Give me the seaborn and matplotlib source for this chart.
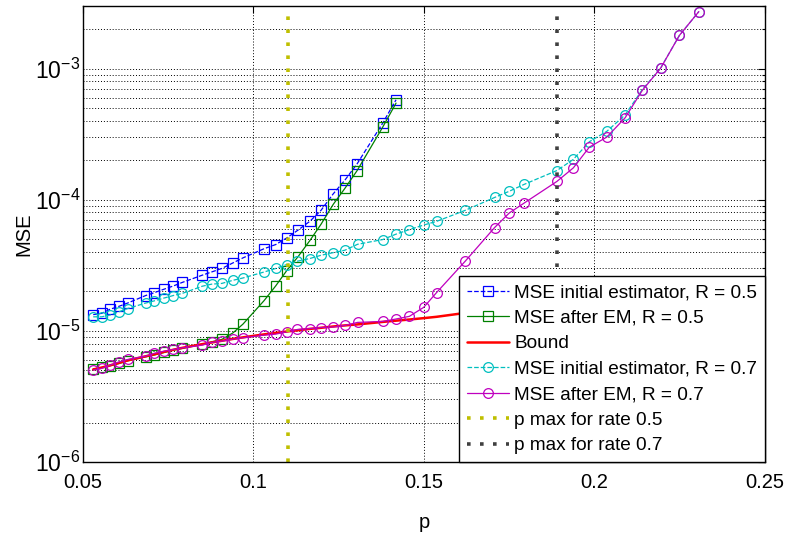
import matplotlib
matplotlib.use("Agg")
import matplotlib.pyplot as plt
import seaborn as sns
from matplotlib.ticker import FixedLocator, FixedFormatter, LogLocator, NullFormatter

# Crossover probabilities for the rate-0.5 code
p_r05 = [0.0530, 0.0555, 0.0579, 0.0606, 0.0631, 0.0684, 0.0708, 0.0738, 0.0765,
         0.0791, 0.0850, 0.0877, 0.0907, 0.0940, 0.0969, 0.1031, 0.1065, 0.1097,
         0.1130, 0.1166, 0.1198, 0.1234, 0.1268, 0.1304, 0.1379, 0.1418]
mse_init_r05 = [1.33e-5, 1.36e-5, 1.46e-5, 1.54e-5, 1.63e-5, 1.86e-5, 1.95e-5, 2.08e-5,
                2.20e-5, 2.34e-5, 2.66e-5, 2.81e-5, 2.99e-5, 3.30e-5, 3.60e-5, 4.23e-5,
                4.55e-5, 5.10e-5, 5.85e-5, 6.87e-5, 8.30e-5, 1.11e-4, 1.41e-4, 1.88e-4,
                3.84e-4, 5.78e-4]
mse_em_r05 = [5.11e-6, 5.26e-6, 5.41e-6, 5.64e-6, 5.91e-6, 6.34e-6, 6.53e-6, 6.84e-6,
              7.13e-6, 7.34e-6, 7.92e-6, 8.25e-6, 8.60e-6, 9.66e-6, 1.125e-5, 1.70e-5,
              2.20e-5, 2.87e-5, 3.66e-5, 4.91e-5, 6.50e-5, 9.23e-5, 1.22e-4, 1.67e-4,
              3.58e-4, 5.45e-4]

# Crossover probabilities for the rate-0.7 code
p_r07 = [0.0530, 0.0555, 0.0579, 0.0606, 0.0631, 0.0684, 0.0708, 0.0738, 0.0765,
         0.0791, 0.0850, 0.0877, 0.0907, 0.0940, 0.0969, 0.1031, 0.1065, 0.1097,
         0.1129, 0.1165, 0.1198, 0.1234, 0.1268, 0.1305, 0.1379, 0.1417, 0.1457,
         0.1499, 0.1537, 0.1621, 0.1707, 0.1750, 0.1794, 0.1890, 0.1938, 0.1985,
         0.2036, 0.2090, 0.2140, 0.2194, 0.2249, 0.2306]
mse_init_r07 = [1.28e-5, 1.28e-5, 1.32e-5, 1.40e-5, 1.48e-5, 1.63e-5, 1.69e-5, 1.78e-5,
                1.86e-5, 1.93e-5, 2.19e-5, 2.27e-5, 2.30e-5, 2.43e-5, 2.53e-5, 2.81e-5,
                2.99e-5, 3.20e-5, 3.40e-5, 3.56e-5, 3.77e-5, 3.95e-5, 4.12e-5, 4.57e-5,
                4.97e-5, 5.45e-5, 5.92e-5, 6.41e-5, 6.84e-5, 8.30e-5, 1.04e-4, 1.16e-4,
                1.31e-4, 1.67e-4, 2.03e-4, 2.77e-4, 3.32e-4, 4.44e-4, 6.90e-4, 1.01e-3,
                1.79e-3, 2.72e-3]
mse_em_r07 = [5.02e-6, 5.17e-6, 5.48e-6, 5.80e-6, 6.05e-6, 6.42e-6, 6.73e-6, 7.00e-6,
              7.21e-6, 7.42e-6, 7.78e-6, 8.16e-6, 8.35e-6, 8.65e-6, 8.85e-6, 9.27e-6,
              9.44e-6, 9.83e-6, 1.025e-5, 1.04e-5, 1.06e-5, 1.07e-5, 1.10e-5, 1.16e-5,
              1.18e-5, 1.23e-5, 1.29e-5, 1.51e-5, 1.96e-5, 3.40e-5, 6.13e-5, 7.92e-5,
              9.44e-5, 1.38e-4, 1.75e-4, 2.52e-4, 3.00e-4, 4.22e-4, 6.81e-4, 1.007e-3,
              1.79e-3, 2.72e-3]

# Theoretical lower bound
p_bound = p_r07
mse_bound = [5.08e-6, 5.25e-6, 5.45e-6, 5.70e-6, 5.95e-6, 6.40e-6, 6.62e-6, 6.92e-6,
             7.18e-6, 7.42e-6, 7.92e-6, 8.15e-6, 8.40e-6, 8.68e-6, 8.92e-6, 9.40e-6,
             9.65e-6, 9.88e-6, 1.01e-5, 1.035e-5, 1.055e-5, 1.08e-5, 1.10e-5, 1.12e-5,
             1.17e-5, 1.195e-5, 1.22e-5, 1.25e-5, 1.28e-5, 1.37e-5, 1.40e-5, 1.43e-5,
             1.46e-5, 1.53e-5, 1.56e-5, 1.60e-5, 1.63e-5, 1.67e-5, 1.71e-5, 1.75e-5,
             1.79e-5, 1.83e-5]

# Largest decodable crossover probability for each rate
p_max_r05 = 0.11
p_max_r07 = 0.189

x_ticks = [0.05, 0.1, 0.15, 0.2, 0.25]
x_tick_labels = ["0.05", "0.1", "0.15", "0.2", "0.25"]
y_ticks = [1e-6, 1e-5, 1e-4, 1e-3]
y_tick_labels = [r"$10^{-6}$", r"$10^{-5}$", r"$10^{-4}$", r"$10^{-3}$"]

sns.set_theme(style="white")
plt.rcParams["font.family"] = ["Liberation Sans", "DejaVu Sans"]
plt.rcParams["mathtext.fontset"] = "custom"
plt.rcParams["mathtext.rm"] = "Liberation Sans"
plt.rcParams["mathtext.it"] = "Liberation Sans:italic"
plt.rcParams["mathtext.bf"] = "Liberation Sans:bold"
plt.rcParams["text.color"] = "black"
plt.rcParams["axes.labelcolor"] = "black"
plt.rcParams["xtick.color"] = "black"
plt.rcParams["ytick.color"] = "black"

fig = plt.figure(figsize=(7.87, 5.39), dpi=100)
ax = fig.add_axes([0.10546, 0.14286, 0.86658, 0.84601])

blue = "#0000FF"
green = "#008000"
red = "#FF0000"
cyan = "#00BFBF"
magenta = "#BF00BF"
olive = "#BFBF00"
dark = "#404040"

ms = 7
common = dict(ax=ax, markersize=ms, markerfacecolor="none", markeredgewidth=0.9,
              lw=0.9, legend=False)

sns.lineplot(x=p_r05, y=mse_init_r05, color=blue, linestyle="--", marker="s",
             markeredgecolor=blue, label="MSE initial estimator, R = 0.5", **common)
sns.lineplot(x=p_r05, y=mse_em_r05, color=green, linestyle="-", marker="s",
             markeredgecolor=green, label="MSE after EM, R = 0.5", **common)
sns.lineplot(x=p_bound, y=mse_bound, color=red, linestyle="-", lw=1.8,
             label="Bound", ax=ax, legend=False)
sns.lineplot(x=p_r07, y=mse_init_r07, color=cyan, linestyle="--", marker="o",
             markeredgecolor=cyan, label="MSE initial estimator, R = 0.7", **common)
sns.lineplot(x=p_r07, y=mse_em_r07, color=magenta, linestyle="-", marker="o",
             markeredgecolor=magenta, label="MSE after EM, R = 0.7", **common)

ax.axvline(p_max_r05, color=olive, lw=2.6, linestyle=(0, (1, 2.6)),
           label="p max for rate 0.5")
ax.axvline(p_max_r07, color=dark, lw=2.6, linestyle=(0, (1, 2.6)),
           label="p max for rate 0.7")

ax.set_yscale("log")
ax.set_xlim(0.05, 0.25)
ax.set_ylim(1e-6, 3e-3)

ax.xaxis.set_major_locator(FixedLocator(x_ticks))
ax.xaxis.set_major_formatter(FixedFormatter(x_tick_labels))
ax.yaxis.set_major_locator(FixedLocator(y_ticks))
ax.yaxis.set_major_formatter(FixedFormatter(y_tick_labels))
ax.yaxis.set_minor_locator(LogLocator(base=10, subs=range(2, 10), numticks=20))
ax.yaxis.set_minor_formatter(NullFormatter())

grid_style = dict(color="black", lw=0.7, linestyle=(0, (1, 2)))
ax.grid(True, axis="x", which="major", **grid_style)
ax.grid(True, axis="y", which="both", **grid_style)
ax.set_axisbelow(True)

ax.tick_params(which="both", direction="in", top=True, right=True, colors="black")
ax.tick_params(which="major", length=5, width=0.8)
ax.tick_params(which="minor", length=2.5, width=0.8)
ax.tick_params(axis="x", labelsize=14.5, pad=8)
ax.tick_params(axis="y", labelsize=16.5, pad=2)

for spine in ax.spines.values():
    spine.set_color("black")
    spine.set_linewidth(1.0)

ax.set_xlabel("p", fontsize=14.5, labelpad=15)
ax.set_ylabel("MSE", fontsize=14.5, labelpad=1)

leg = ax.legend(loc="lower right", borderaxespad=0, fontsize=13.7, frameon=True,
                fancybox=False, framealpha=1, edgecolor="black", handlelength=2.2,
                handletextpad=0.3, labelspacing=0.43, borderpad=0.4)
leg.get_frame().set_linewidth(1.0)

fig.savefig("out.png", dpi=100)
